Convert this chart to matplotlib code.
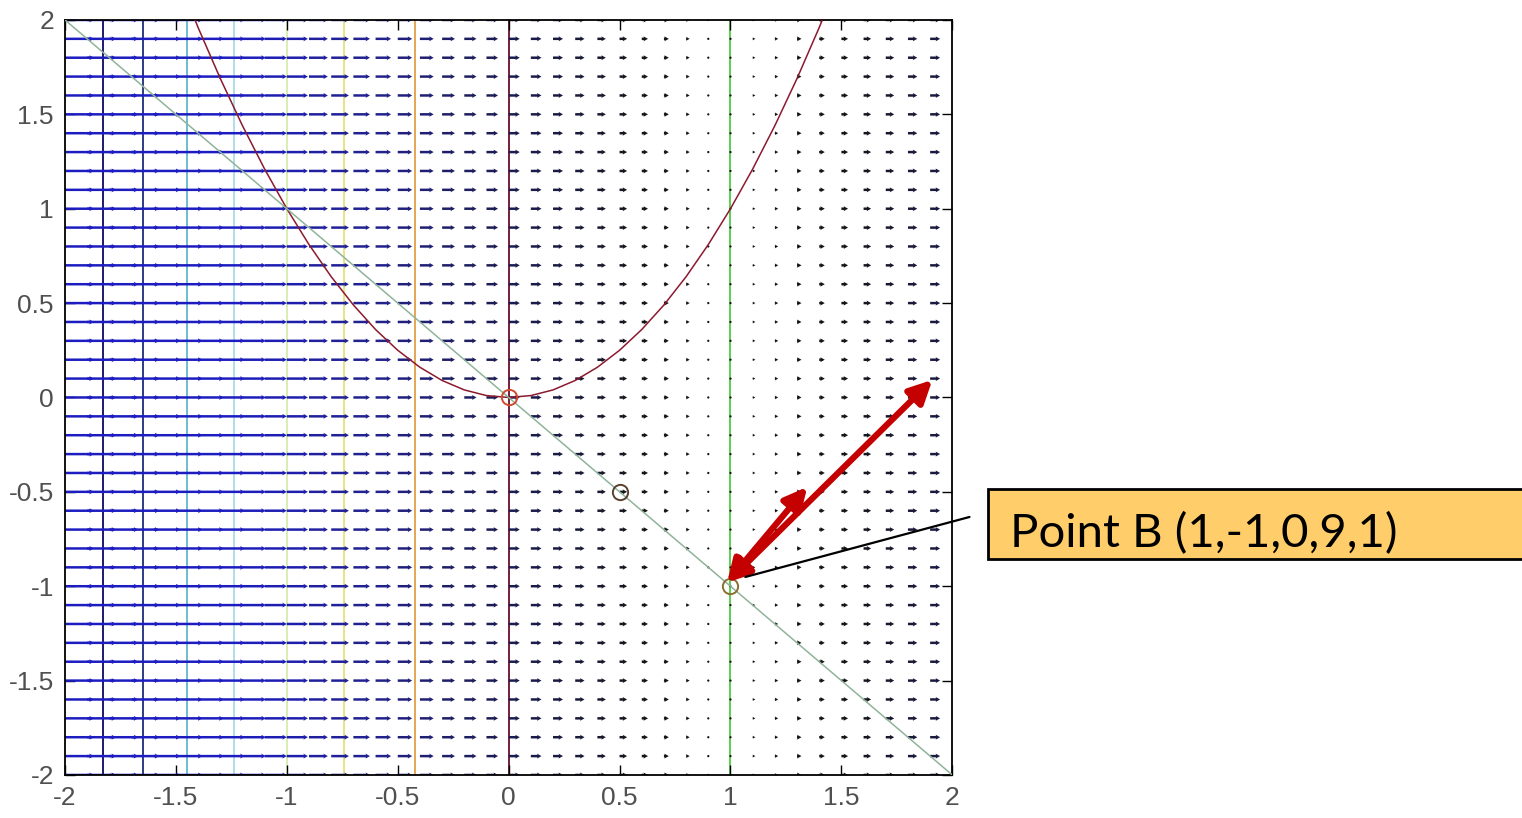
import numpy as np
import matplotlib.pyplot as plt
from matplotlib.colors import LinearSegmentedColormap
from matplotlib.patches import Rectangle

plt.rcParams['font.family'] = ['Liberation Sans', 'DejaVu Sans']

# quiver grid (columns / rows) and horizontal arrow length per column
grid_x = np.round(np.linspace(-2, 2, 41), 2)
grid_y = np.round(np.linspace(-2, 2, 41), 2)
arrow_len = [0.13, 0.13, 0.13, 0.125, 0.12, 0.12, 0.115, 0.11, 0.105, 0.10,
             0.095, 0.085, 0.08, 0.075, 0.07, 0.065, 0.062, 0.058, 0.055, 0.052,
             0.05, 0.048, 0.045, 0.042, 0.038, 0.034, 0.028, 0.022, 0.016, 0.01,
             0.005, 0.012, 0.015, 0.02, 0.025, 0.03, 0.034, 0.038, 0.042, 0.045,
             0.048]

# vertical contour lines
contour_x = [-1.83, -1.65, -1.45, -1.24, -1.0, -0.74, -0.42, 0.0, 1.0]
contour_colors = ['#0a0a60', '#1c2c78', '#5fb8d0', '#a8dce6', '#d6ecb0',
                  '#e6e07a', '#e0a048', '#6a0c2c', '#4ccc44']

# parabola y = x^2
parab_x = [-1.5, -1.4, -1.3, -1.2, -1.1, -1.0, -0.9, -0.8, -0.7, -0.6, -0.5,
           -0.4, -0.3, -0.2, -0.1, 0.0, 0.1, 0.2, 0.3, 0.4, 0.5, 0.6, 0.7,
           0.8, 0.9, 1.0, 1.1, 1.2, 1.3, 1.4, 1.5]
parab_y = [2.25, 1.96, 1.69, 1.44, 1.21, 1.0, 0.81, 0.64, 0.49, 0.36, 0.25,
           0.16, 0.09, 0.04, 0.01, 0.0, 0.01, 0.04, 0.09, 0.16, 0.25, 0.36, 0.49,
           0.64, 0.81, 1.0, 1.21, 1.44, 1.69, 1.96, 2.25]

# diagonal y = -x
diag_x = [-2.0, 2.0]
diag_y = [2.0, -2.0]

# marked points
pts_x = [0.0, 0.5, 1.0]
pts_y = [0.0, -0.5, -1.0]
pts_colors = ['#d04a30', '#5a4030', '#8a7030']

ticks = [-2, -1.5, -1, -0.5, 0, 0.5, 1, 1.5, 2]
tick_labels = ['-2', '-1.5', '-1', '-0.5', '0', '0.5', '1', '1.5', '2']

fig = plt.figure(figsize=(15.22, 8.18), dpi=100)
ax = fig.add_axes([0.0427, 0.0526, 0.583, 0.923])

X, Y = np.meshgrid(grid_x, grid_y)
U = np.tile(arrow_len, (len(grid_y), 1))
V = np.zeros_like(U)
cmap = LinearSegmentedColormap.from_list('qv', ['#151515', '#22228a', '#1c1cc0'])
ax.quiver(X, Y, U, V, U, cmap=cmap, norm=plt.Normalize(0.03, 0.11),
          angles='xy', scale_units='xy', scale=1, pivot='tail',
          width=0.0028, headwidth=2.0, headlength=1.8, headaxislength=1.6, zorder=2)

for cx, cc in zip(contour_x, contour_colors):
    ax.axvline(cx, color=cc, lw=1.3, zorder=1)

ax.plot(parab_x, parab_y, color='#8b1a2e', lw=1.1, zorder=3)
ax.plot(diag_x, diag_y, color='#8fb49a', lw=1.1, zorder=3)
for px, py, pc in zip(pts_x, pts_y, pts_colors):
    ax.plot(px, py, 'o', mfc='none', mec=pc, ms=11, mew=1.4, zorder=4)

ax.set_xlim(-2, 2)
ax.set_ylim(-2, 2)
ax.set_xticks(ticks)
ax.set_xticklabels(tick_labels)
ax.set_yticks(ticks)
ax.set_yticklabels(tick_labels)
ax.tick_params(direction='in', top=True, right=True, length=7, width=1,
               labelsize=19, labelcolor='#505050', pad=8)
for s in ax.spines.values():
    s.set_linewidth(1.3)

# red double arrows
red = '#c40000'
ax.annotate('', xy=(1.91, 0.093), xytext=(0.985, -0.98), annotation_clip=False,
            arrowprops=dict(arrowstyle='<|-|>', color=red, lw=4.5,
                            mutation_scale=34, shrinkA=0, shrinkB=0), zorder=6)
ax.annotate('', xy=(1.346, -0.474), xytext=(0.985, -0.98), annotation_clip=False,
            arrowprops=dict(arrowstyle='<|-|>', color=red, lw=4.5,
                            mutation_scale=34, shrinkA=0, shrinkB=0), zorder=6)

# callout box
fig.patches.append(Rectangle((0.649, 0.3166), 0.36, 0.0856, transform=fig.transFigure,
                             facecolor='#ffcd69', edgecolor='black', lw=2, zorder=5))
fig.text(0.6636, 0.347, 'Point B (1,-1,0,9,1)', fontsize=34, family=['Lato', 'DejaVu Sans'],
         va='center', ha='left', color='black', zorder=6)
ax.annotate('', xy=(1.067, -0.951), xycoords='data', xytext=(0.637, 0.368),
            textcoords='figure fraction', annotation_clip=False,
            arrowprops=dict(arrowstyle='-', color='black', lw=1.6, shrinkA=0, shrinkB=0),
            zorder=6)

fig.savefig('out.png', dpi=100)
